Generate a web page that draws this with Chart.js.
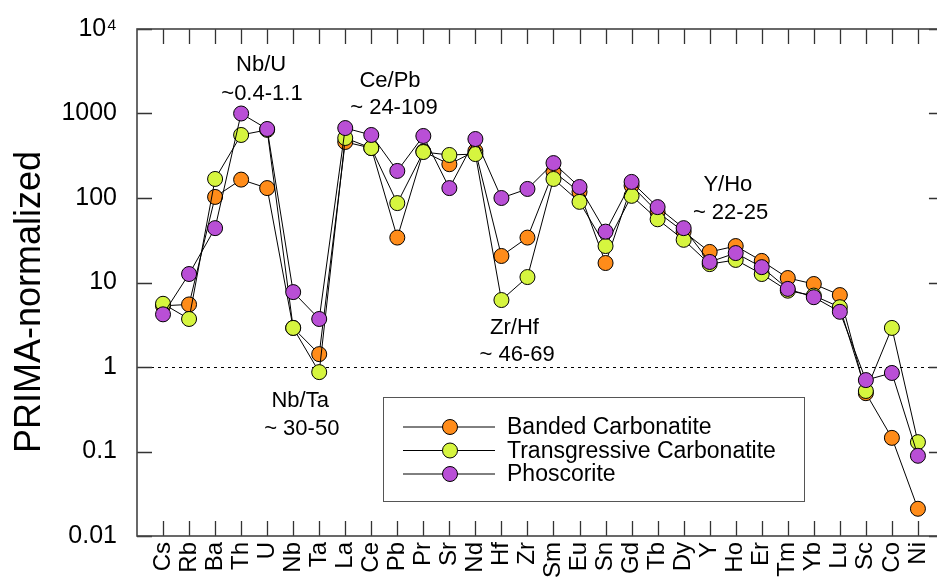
<!DOCTYPE html>
<html>
<head>
<meta charset="utf-8">
<script src="https://cdn.jsdelivr.net/npm/chart.js@4.4.1/dist/chart.umd.min.js"></script>
<style>
  html, body { margin: 0; padding: 0; background: #fff; overflow: hidden; }
  canvas { display: block; margin-top: -6px; }
</style>
</head>
<body>
<canvas id="spiderChart" width="953" height="590"></canvas>
<script>
// element order along the x axis
const elements = ['Cs','Rb','Ba','Th','U','Nb','Ta','La','Ce','Pb','Pr','Sr','Nd','Hf','Zr',
                  'Sm','Eu','Sn','Gd','Tb','Dy','Y','Ho','Er','Tm','Yb','Lu','Sc','Co','Ni'];

// PRIMA-normalized values
const banded = [5.3, 5.5, 103, 165, 131, 2.9, 1.42, 460, 390, 34, 355, 251, 360, 20.6, 34,
                205, 118, 17, 140, 68, 40, 23, 27, 18, 11.3, 9.6, 7.1, 0.49, 0.145, 0.021];
const transgressive = [5.6, 3.7, 168, 557, 640, 2.9, 0.87, 513, 390, 87, 350, 323, 331, 6.2, 11.6,
                       168, 90, 27, 106, 56, 32, 16.5, 18.5, 12.6, 8, 7, 5.1, 0.52, 2.9, 0.129];
const phoscorite = [4.2, 12.6, 44, 1000, 656, 7.7, 3.7, 673, 557, 209, 542, 131, 499, 100, 128,
                    259, 135, 40, 155, 78, 44, 17.5, 22.3, 15.2, 8.4, 6.7, 4.5, 0.70, 0.85, 0.089];

const seriesNames = ['Banded Carbonatite', 'Transgressive Carbonatite', 'Phoscorite'];
const seriesColors = ['#ff8c1a', '#d6f53f', '#b94fd6'];

const yTicks = [0.01, 0.1, 1, 10, 100, 1000, 10000];
const yTickLabels = ['0.01', '0.1', '1', '10', '100', '1000', '10\u2074'];

// ratio annotations (x in element index units, y in data units)
const annoText = ['Nb/U', '~0.4-1.1', 'Ce/Pb', '~ 24-109', 'Zr/Hf', '~ 46-69', 'Nb/Ta', '~ 30-50', 'Y/Ho', '~ 22-25'];
const annoX = [3.77, 3.8, 8.72, 8.87, 13.5, 13.6, 5.27, 5.33, 21.7, 21.8];
const annoY = [3750, 1700, 2430, 1160, 2.9, 1.39, 0.40, 0.185, 143, 66];

const FONT = "'Liberation Sans', Arial, Helvetica, sans-serif";
const SHIFT = 6; // canvas is pulled up by this much

function toPoints(vals) {
    return vals.map((v, i) => ({ x: i, y: v }));
}

// frame, inward ticks, dotted 1-line, annotations, legend and y title
const decorations = {
    id: 'decorations',
    beforeDatasetsDraw(chart) {
        const { ctx, chartArea: a, scales: { x, y } } = chart;
        ctx.save();
        // dotted reference line at 1
        const y1 = Math.round(y.getPixelForValue(1)) + 0.5;
        ctx.strokeStyle = '#000';
        ctx.lineWidth = 1;
        ctx.setLineDash([3, 4]);
        ctx.beginPath();
        ctx.moveTo(a.left, y1);
        ctx.lineTo(a.right, y1);
        ctx.stroke();
        ctx.setLineDash([]);

        // ticks pointing inward
        ctx.strokeStyle = '#333';
        ctx.lineWidth = 1.3;
        const len = 15;
        ctx.beginPath();
        yTicks.forEach(v => {
            const py = Math.round(y.getPixelForValue(v)) + 0.5;
            ctx.moveTo(a.left, py); ctx.lineTo(a.left + len, py);
            ctx.moveTo(a.right, py); ctx.lineTo(a.right - len, py);
        });
        elements.forEach((_, i) => {
            const px = Math.round(x.getPixelForValue(i)) + 0.5;
            ctx.moveTo(px, a.bottom); ctx.lineTo(px, a.bottom - len);
            ctx.moveTo(px, a.top); ctx.lineTo(px, a.top + len);
        });
        ctx.stroke();

        // frame
        ctx.strokeStyle = '#444';
        ctx.lineWidth = 1.6;
        ctx.strokeRect(a.left, a.top, a.right - a.left, a.bottom - a.top);
        ctx.restore();
    },
    afterDatasetsDraw(chart) {
        const { ctx, scales: { x, y } } = chart;
        ctx.save();
        ctx.fillStyle = '#000';
        ctx.font = '22px ' + FONT;
        ctx.textAlign = 'center';
        ctx.textBaseline = 'middle';
        annoText.forEach((t, i) => {
            ctx.fillText(t, x.getPixelForValue(annoX[i]), y.getPixelForValue(annoY[i]));
        });

        // legend box
        const bx = 383, by = 397 + SHIFT, bw = 421, bh = 104;
        ctx.fillStyle = '#fff';
        ctx.fillRect(bx, by, bw, bh);
        ctx.strokeStyle = '#555';
        ctx.lineWidth = 1;
        ctx.strokeRect(bx + 0.5, by + 0.5, bw, bh);
        chart.data.datasets.forEach((ds, i) => {
            const ry = 427 + SHIFT + i * 23.5;
            ctx.strokeStyle = '#000';
            ctx.lineWidth = 1;
            ctx.beginPath();
            ctx.moveTo(403, ry); ctx.lineTo(495, ry);
            ctx.stroke();
            ctx.beginPath();
            ctx.arc(450, ry, 7.5, 0, Math.PI * 2);
            ctx.fillStyle = ds.pointBackgroundColor;
            ctx.fill();
            ctx.stroke();
            ctx.fillStyle = '#000';
            ctx.font = '23px ' + FONT;
            ctx.textAlign = 'left';
            ctx.fillText(ds.label, 507, ry + 1);
        });

        // y axis title
        ctx.translate(30, 302 + SHIFT);
        ctx.rotate(-Math.PI / 2);
        ctx.font = '36px ' + FONT;
        ctx.textAlign = 'center';
        ctx.fillStyle = '#000';
        ctx.fillText('PRIMA-normalized', 0, 0);
        ctx.restore();
    }
};

const datasets = [banded, transgressive, phoscorite].map((vals, i) => ({
    label: seriesNames[i],
    data: toPoints(vals),
    showLine: true,
    borderColor: '#000',
    borderWidth: 1,
    pointRadius: 7.5,
    pointBorderWidth: 1,
    pointBorderColor: '#000',
    pointBackgroundColor: seriesColors[i],
    order: 2 - i   // phoscorite on top
}));

const ctx = document.getElementById('spiderChart').getContext('2d');
new Chart(ctx, {
    type: 'scatter',
    data: { datasets: datasets },
    options: {
        responsive: false,
        animation: false,
        layout: { padding: { top: 23, right: 0, bottom: 0, left: 0 } },
        plugins: { legend: { display: false }, tooltip: { enabled: false } },
        scales: {
            x: {
                type: 'linear',
                min: -1,
                max: 30,
                afterBuildTicks: s => { s.ticks = elements.map((_, i) => ({ value: i })); },
                afterFit: s => { s.height = 48; },
                grid: { display: false, drawTicks: false },
                border: { display: false },
                ticks: {
                    autoSkip: false,
                    minRotation: 90,
                    maxRotation: 90,
                    padding: 6,
                    color: '#000',
                    font: { family: FONT, size: 24 },
                    callback: (v) => elements[v] ?? ''
                }
            },
            y: {
                type: 'logarithmic',
                min: 0.01,
                max: 10000,
                afterBuildTicks: s => { s.ticks = yTicks.map(v => ({ value: v })); },
                afterFit: s => { s.width = 137; },
                grid: { display: false, drawTicks: false },
                border: { display: false },
                ticks: {
                    padding: 20,
                    color: '#000',
                    font: { family: FONT, size: 25 },
                    callback: (v, idx) => yTickLabels[idx]
                }
            }
        }
    },
    plugins: [decorations]
});
</script>
</body>
</html>
